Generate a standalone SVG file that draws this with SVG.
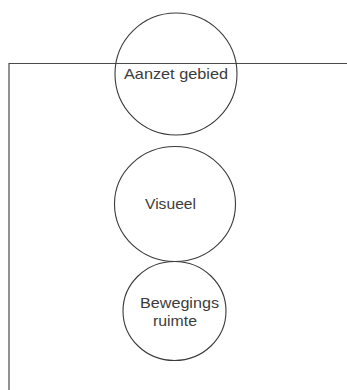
<svg xmlns="http://www.w3.org/2000/svg" width="347" height="390" viewBox="0 0 347 390">
<style>
.n{fill:none;stroke:#3a3a3a;stroke-width:1.1}
.t{font-family:"Liberation Sans",Arial,sans-serif;font-size:14.5px;fill:#3c3c3c}
.f{fill:none;stroke:#4a4a4a;stroke-width:1.2}
</style>
<rect width="347" height="390" fill="#fff"/>
<g id="frame">
<path class="f" d="M9,390 V63.5 H347"/>
</g>
<g id="connectors"></g>
<g id="aanzet">
<ellipse class="n" cx="176" cy="74" rx="61" ry="61"/>
<text class="t" x="124" y="78.5" textLength="104" lengthAdjust="spacingAndGlyphs">Aanzet gebied</text>
</g>
<g id="visueel">
<ellipse class="n" cx="175" cy="204" rx="60.5" ry="57.5"/>
<text class="t" x="145" y="208.5" textLength="51" lengthAdjust="spacingAndGlyphs">Visueel</text>
</g>
<g id="bewegings">
<ellipse class="n" cx="174.5" cy="311" rx="51.5" ry="49.5"/>
<text class="t" x="140" y="307.5" textLength="79" lengthAdjust="spacingAndGlyphs">Bewegings</text>
<text class="t" x="153" y="325.5" textLength="44" lengthAdjust="spacingAndGlyphs">ruimte</text>
</g>
</svg>
